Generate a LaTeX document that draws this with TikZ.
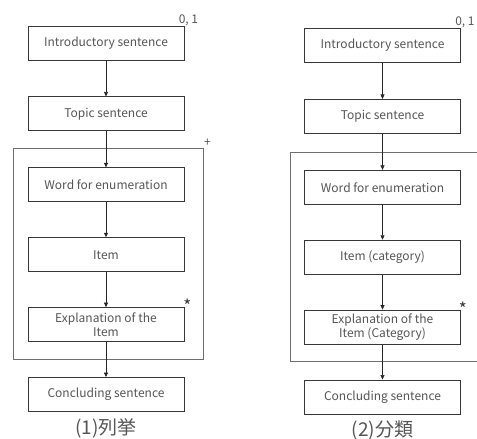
\documentclass[tikz,border=0pt]{standalone}
\usepackage{fontspec}
\setmainfont{Noto Sans CJK JP}
\usepackage{tikz}
\usetikzlibrary{arrows.meta,positioning,calc}
\usepackage{xcolor}
\definecolor{txtgray}{RGB}{85,85,85}
\definecolor{boxgray}{RGB}{55,55,55}
\definecolor{framegray}{RGB}{110,110,110}
\tikzset{
  box/.style={draw=boxgray,line width=0.9pt,minimum width=156pt,
              minimum height=34pt,inner sep=1pt,align=center,
              text=txtgray,font=\fontsize{12}{13.5}\selectfont},
  arr/.style={-{Triangle[length=4.5pt,width=4pt]},line width=0.6pt,black!85},
  tagtxt/.style={text=txtgray,inner sep=1pt,font=\fontsize{12}{13}\selectfont},
  startxt/.style={text=black!80,inner sep=0pt,font=\fontsize{17}{17}\selectfont},
  captxt/.style={text=txtgray,font=\fontsize{19}{20}\selectfont},
}
\begin{document}
\begin{tikzpicture}[x=1pt,y=-1pt,
    frame/.style={draw=framegray,line width=1pt},
    node distance=36pt,
  ]
    \useasboundingbox (0,0) rectangle (477,439);
    % (1) enumeration
    \node[box] (introA) at (106,43) {Introductory sentence};
    \node[box,below=of introA] (topicA) {Topic sentence};
    \node[box,below=of topicA] (wordA) {Word for enumeration};
    \node[box,below=35pt of wordA] (itemA) {Item};
    \node[box,below=35pt of itemA] (explA) {Explanation of the\\Item};
    \node[box,below=35pt of explA] (concA) {Concluding sentence};
    \coordinate (ftlA) at ($(wordA.north west)+(-14,-19)$);
    \coordinate (fbrA) at ($(explA.south east)+(19,17)$);
    \draw[frame] (ftlA) rectangle (fbrA);
    \draw[arr] (introA) -- (topicA);
    \draw[arr] (topicA) -- (wordA);
    \draw[arr] (wordA) -- (itemA);
    \draw[arr] (itemA) -- (explA);
    \draw[arr] (explA) -- (concA);
    \node[tagtxt,anchor=south] (repA) at ($(introA.north east)+(4,1)$) {0, 1};
    \node[tagtxt] (plusA) at ($(ftlA -| fbrA)+(4,-6)$) {+};
    \node[startxt] (starA) at ($(explA.north east)+(3,-1)$) {*};
    \node[captxt,below=3pt of concA] (capA) {(1)列挙};
    % (2) classification
    \node[box] (introB) at (382.5,45.5) {Introductory sentence};
    \node[box,below=of introB] (topicB) {Topic sentence};
    \node[box,below=of topicB] (wordB) {Word for enumeration};
    \node[box,below=35pt of wordB] (itemB) {Item (category)};
    \node[box,below=35pt of itemB] (explB) {Explanation of the\\Item (Category)};
    \node[box,below=35pt of explB] (concB) {Concluding sentence};
    \coordinate (ftlB) at ($(wordB.north west)+(-14,-17)$);
    \coordinate (fblB) at ($(explB.south west)+(-14,17)$);
    \draw[frame] (ftlB -| 480,0) -- (ftlB) -- (fblB) -- (fblB -| 480,0);
    \draw[arr] (introB) -- (topicB);
    \draw[arr] (topicB) -- (wordB);
    \draw[arr] (wordB) -- (itemB);
    \draw[arr] (itemB) -- (explB);
    \draw[arr] (explB) -- (concB);
    \node[tagtxt,anchor=south] (repB) at ($(introB.north east)+(4,1)$) {0, 1};
    \node[startxt] (starB) at ($(explB.north east)+(2,-1)$) {*};
    \node[captxt,below=3pt of concB] (capB) {(2)分類};
\end{tikzpicture}
\end{document}
